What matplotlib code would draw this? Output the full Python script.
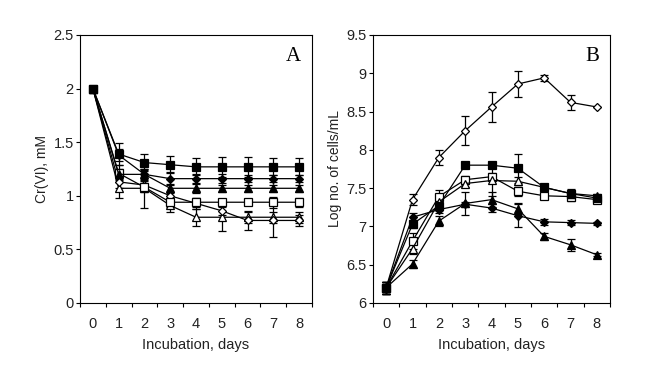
import matplotlib.pyplot as plt

plt.rcParams['font.family'] = ['Liberation Sans', 'DejaVu Sans']

days = [0, 1, 2, 3, 4, 5, 6, 7, 8]

# panel A: Cr(VI), mM
crA_fsq = [2.0, 1.39, 1.31, 1.29, 1.27, 1.27, 1.27, 1.27, 1.27]
crA_fdi = [2.0, 1.38, 1.20, 1.16, 1.16, 1.16, 1.16, 1.16, 1.16]
crA_ftr = [2.0, 1.20, 1.20, 1.07, 1.07, 1.07, 1.07, 1.07, 1.07]
crA_osq = [2.0, 1.21, 1.08, 0.94, 0.94, 0.94, 0.94, 0.94, 0.94]
crA_odi = [2.0, 1.13, 1.10, 1.00, 0.93, 0.86, 0.77, 0.77, 0.77]
crA_otr = [2.0, 1.07, 1.07, 0.91, 0.80, 0.80, 0.80, 0.80, 0.80]
errA_fsq = [0.02, 0.10, 0.08, 0.08, 0.08, 0.09, 0.09, 0.08, 0.08]
errA_fdi = [0.02, 0.06, 0.05, 0.06, 0.04, 0.04, 0.03, 0.03, 0.03]
errA_ftr = [0.02, 0.05, 0.04, 0.04, 0.04, 0.03, 0.03, 0.03, 0.03]
errA_osq = [0.02, 0.08, 0.04, 0.04, 0.04, 0.03, 0.03, 0.05, 0.04]
errA_odi = [0.02, 0.06, 0.04, 0.04, 0.05, 0.04, 0.09, 0.15, 0.05]
errA_otr = [0.02, 0.09, 0.18, 0.06, 0.08, 0.13, 0.05, 0.05, 0.05]

# panel B: log no. of cells/mL
lgB_odi = [6.20, 7.35, 7.90, 8.25, 8.56, 8.86, 8.94, 8.62, 8.56]
lgB_fsq = [6.20, 7.03, 7.27, 7.80, 7.80, 7.76, 7.51, 7.43, 7.37]
lgB_osq = [6.20, 6.81, 7.39, 7.61, 7.65, 7.46, 7.40, 7.39, 7.35]
lgB_otr = [6.20, 6.71, 7.32, 7.56, 7.60, 7.59, 7.51, 7.43, 7.40]
lgB_fdi = [6.20, 7.12, 7.22, 7.29, 7.24, 7.14, 7.06, 7.05, 7.04]
lgB_ftr = [6.20, 6.51, 7.07, 7.30, 7.35, 7.23, 6.87, 6.76, 6.63]
errB_odi = [0.08, 0.07, 0.10, 0.19, 0.20, 0.17, 0.04, 0.10, 0.00]
errB_fsq = [0.08, 0.05, 0.06, 0.02, 0.03, 0.19, 0.04, 0.05, 0.02]
errB_osq = [0.08, 0.10, 0.08, 0.05, 0.05, 0.06, 0.04, 0.06, 0.03]
errB_otr = [0.08, 0.07, 0.06, 0.04, 0.20, 0.05, 0.03, 0.06, 0.03]
errB_fdi = [0.08, 0.06, 0.05, 0.03, 0.05, 0.15, 0.04, 0.03, 0.02]
errB_ftr = [0.08, 0.05, 0.06, 0.15, 0.10, 0.07, 0.05, 0.08, 0.02]

fig = plt.figure(figsize=(6.45, 3.83), dpi=100)
axA = fig.add_axes([80/645, 1-303/383, 232/645, 268/383])
axB = fig.add_axes([373/645, 1-303/383, 237/645, 268/383])

msize = {'s': 5.5, 'D': 4.5, '^': 6}


def draw(ax, y, e, marker, filled):
    fc = 'black' if filled else 'white'
    ax.errorbar(days, y, yerr=e, color='black', lw=0.9, marker=marker, ms=msize[marker],
                mfc=fc, mec='black', mew=0.9, capsize=3, elinewidth=0.9, capthick=0.9)


seriesA = [(crA_otr, errA_otr, '^', False), (crA_odi, errA_odi, 'D', False),
           (crA_osq, errA_osq, 's', False), (crA_ftr, errA_ftr, '^', True),
           (crA_fdi, errA_fdi, 'D', True), (crA_fsq, errA_fsq, 's', True)]
for y, e, m, f in seriesA:
    draw(axA, y, e, m, f)

seriesB = [(lgB_odi, errB_odi, 'D', False), (lgB_osq, errB_osq, 's', False),
           (lgB_otr, errB_otr, '^', False), (lgB_fdi, errB_fdi, 'D', True),
           (lgB_ftr, errB_ftr, '^', True), (lgB_fsq, errB_fsq, 's', True)]
for y, e, m, f in seriesB:
    draw(axB, y, e, m, f)

for ax in (axA, axB):
    ax.set_xlim(-0.5, 8.5)
    ax.set_xticks([x - 0.5 for x in range(10)])
    ax.set_xticklabels([])
    ax.set_xticks(days, minor=True)
    ax.set_xticklabels([str(d) for d in days], minor=True)
    ax.tick_params(axis='x', which='major', direction='out', length=3, width=0.8)
    ax.tick_params(axis='x', which='minor', length=0, pad=10, labelsize=10.5, labelcolor='#222222')
    ax.tick_params(axis='y', direction='out', length=3, width=0.8, pad=1.5, labelsize=10.5, labelcolor='#222222')
    ax.set_xlabel('Incubation, days', fontsize=10.5, color='#222222', labelpad=5)
    for s in ax.spines.values():
        s.set_linewidth(0.8)

axA.set_ylim(0, 2.5)
axA.set_yticks([0, 0.5, 1, 1.5, 2, 2.5])
axA.set_yticklabels(['0', '0.5', '1', '1.5', '2', '2.5'])
axA.set_ylabel('Cr(VI), mM', fontsize=10, color='#222222', labelpad=3)
axA.text(0.92, 0.92, 'A', transform=axA.transAxes, ha='center', va='center',
         fontsize=15, family='Liberation Serif')

axB.set_ylim(6, 9.5)
axB.set_yticks([6, 6.5, 7, 7.5, 8, 8.5, 9, 9.5])
axB.set_yticklabels(['6', '6.5', '7', '7.5', '8', '8.5', '9', '9.5'])
axB.set_ylabel('Log no. of cells/mL', fontsize=10, color='#222222', labelpad=3)
axB.text(0.925, 0.92, 'B', transform=axB.transAxes, ha='center', va='center',
         fontsize=15, family='Liberation Serif')

fig.savefig('out.png', dpi=100)
